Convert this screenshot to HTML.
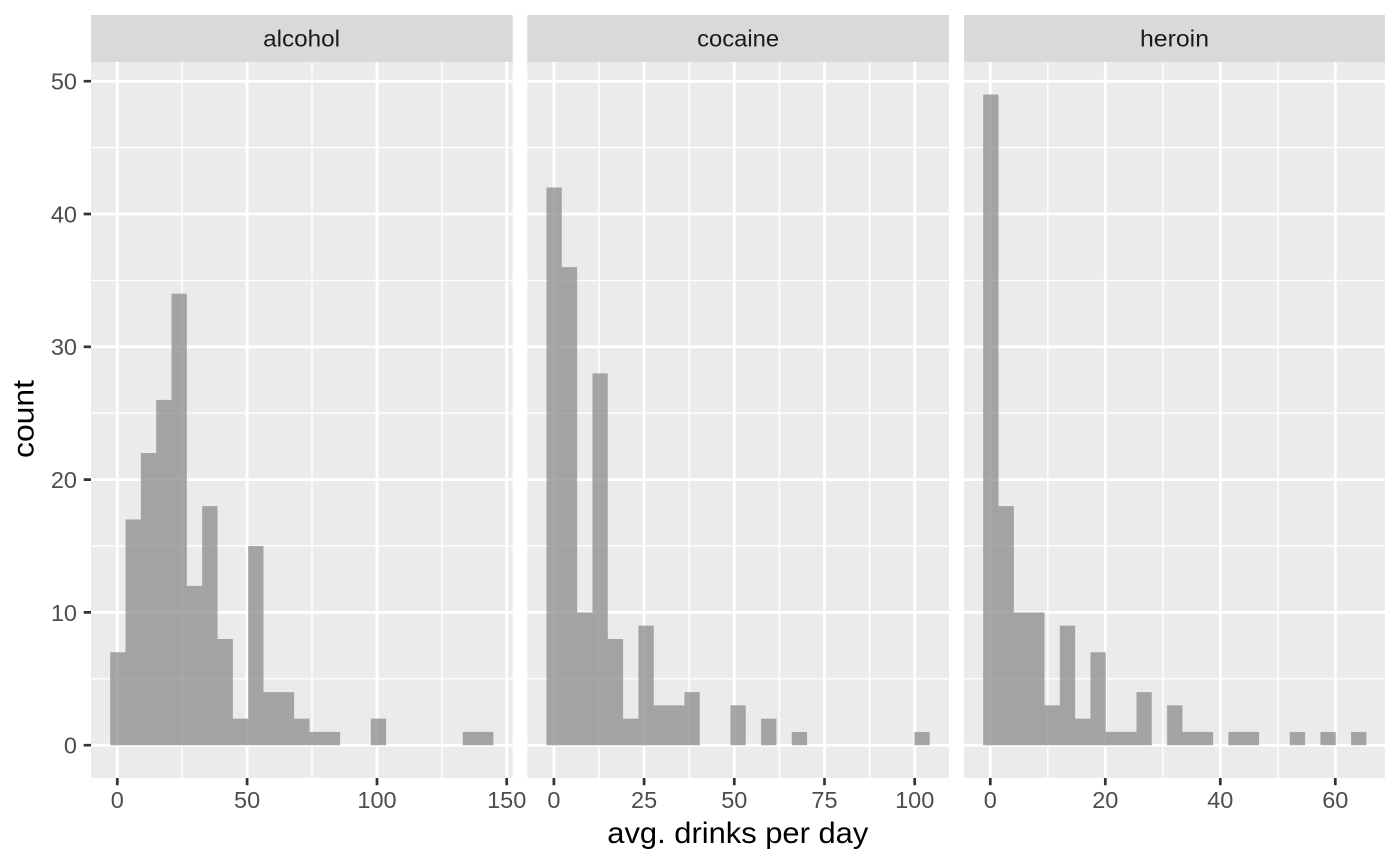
<!DOCTYPE html>
<html>
<head>
<meta charset="utf-8">
<style>
  html, body { margin: 0; padding: 0; background: #ffffff; }
  svg { display: block; }
  text { font-family: "Liberation Sans", "DejaVu Sans", sans-serif; }
</style>
</head>
<body>
<svg width="1400" height="866" viewBox="0 0 1400 866" xmlns="http://www.w3.org/2000/svg">
  <rect x="0" y="0" width="1400" height="866" fill="#ffffff"/>

  <!-- Strips -->
  <rect x="91" y="15" width="421.7" height="47" fill="#D9D9D9"/>
  <rect x="527.3" y="15" width="421.7" height="47" fill="#D9D9D9"/>
  <rect x="964" y="15" width="421" height="47" fill="#D9D9D9"/>
  <text x="301.6" y="46.7" font-size="23.5" fill="#1A1A1A" text-anchor="middle" textLength="77" lengthAdjust="spacingAndGlyphs">alcohol</text>
  <text x="738.15" y="46.7" font-size="23.5" fill="#1A1A1A" text-anchor="middle" textLength="82" lengthAdjust="spacingAndGlyphs">cocaine</text>
  <text x="1174.5" y="46.7" font-size="23.5" fill="#1A1A1A" text-anchor="middle" textLength="69" lengthAdjust="spacingAndGlyphs">heroin</text>

  <!-- Panel backgrounds -->
  <rect x="91" y="62" width="421.7" height="716" fill="#EBEBEB"/>
  <rect x="527.3" y="62" width="421.7" height="716" fill="#EBEBEB"/>
  <rect x="964" y="62" width="421" height="716" fill="#EBEBEB"/>

  <!-- Minor gridlines -->
  <g stroke="#ffffff" stroke-width="1.4">
    <path d="M91 678.8H512.7M91 546H512.7M91 413.2H512.7M91 280.4H512.7M91 147.6H512.7"/>
    <path d="M527.3 678.8H949M527.3 546H949M527.3 413.2H949M527.3 280.4H949M527.3 147.6H949"/>
    <path d="M964 678.8H1385M964 546H1385M964 413.2H1385M964 280.4H1385M964 147.6H1385"/>
    <path d="M182.2 62V778M312 62V778M441.8 62V778"/>
    <path d="M599 62V778M689.2 62V778M779.4 62V778M869.6 62V778"/>
    <path d="M1047.8 62V778M1162.8 62V778M1277.8 62V778"/>
  </g>
  <!-- Major gridlines -->
  <g stroke="#ffffff" stroke-width="2.8">
    <path d="M91 745.2H512.7M91 612.4H512.7M91 479.6H512.7M91 346.8H512.7M91 214H512.7M91 81.2H512.7"/>
    <path d="M527.3 745.2H949M527.3 612.4H949M527.3 479.6H949M527.3 346.8H949M527.3 214H949M527.3 81.2H949"/>
    <path d="M964 745.2H1385M964 612.4H1385M964 479.6H1385M964 346.8H1385M964 214H1385M964 81.2H1385"/>
    <path d="M117.3 62V778M247.1 62V778M377 62V778M506.7 62V778"/>
    <path d="M553.9 62V778M644.1 62V778M734.3 62V778M824.5 62V778M914.7 62V778"/>
    <path d="M990.3 62V778M1105.3 62V778M1220.3 62V778M1335.3 62V778"/>
  </g>

  <!-- Bars -->
  <g fill="rgb(139,139,139)" fill-opacity="0.75">
    <path d="M110.2 745.2V652.24H125.53V519.44H140.86V453.04H156.19V399.92H171.52V293.68H186.85V585.84H202.18V506.16H217.51V638.96H232.84V718.64H248.17V546H263.5V692.08H294.16V718.64H309.49V731.92H340.15V745.2Z"/>
    <path d="M370.81 718.64H386.14V745.2H370.81Z"/>
    <path d="M462.79 731.92H493.45V745.2H462.79Z"/>
    <path d="M546.47 745.2V187.44H561.8V267.12H577.13V612.4H592.46V373.36H607.79V638.96H623.12V718.64H638.45V625.68H653.78V705.36H684.44V692.08H699.77V745.2Z"/>
    <path d="M730.43 705.36H745.76V745.2H730.43Z"/>
    <path d="M761.09 718.64H776.42V745.2H761.09Z"/>
    <path d="M791.75 731.92H807.08V745.2H791.75Z"/>
    <path d="M914.39 731.92H929.72V745.2H914.39Z"/>
    <path d="M983.17 745.2V94.48H998.5V506.16H1013.83V612.4H1044.49V705.36H1059.82V625.68H1075.15V718.64H1090.48V652.24H1105.81V731.92H1136.47V692.08H1151.8V745.2Z"/>
    <path d="M1167.13 745.2V705.36H1182.46V731.92H1213.12V745.2Z"/>
    <path d="M1228.45 731.92H1259.11V745.2H1228.45Z"/>
    <path d="M1289.77 731.92H1305.1V745.2H1289.77Z"/>
    <path d="M1320.43 731.92H1335.76V745.2H1320.43Z"/>
    <path d="M1351.09 731.92H1366.42V745.2H1351.09Z"/>
  </g>

  <!-- Axis ticks -->
  <g stroke="#333333" stroke-width="2.7">
    <path d="M83.7 745.2H91M83.7 612.4H91M83.7 479.6H91M83.7 346.8H91M83.7 214H91M83.7 81.2H91"/>
    <path d="M117.3 778V785.3M247.1 778V785.3M377 778V785.3M506.7 778V785.3"/>
    <path d="M553.9 778V785.3M644.1 778V785.3M734.3 778V785.3M824.5 778V785.3M914.7 778V785.3"/>
    <path d="M990.3 778V785.3M1105.3 778V785.3M1220.3 778V785.3M1335.3 778V785.3"/>
  </g>

  <!-- Y tick labels -->
  <g font-size="23.5" fill="#4D4D4D" text-anchor="end">
    <text x="77" y="753.6">0</text>
    <text x="77" y="620.8">10</text>
    <text x="77" y="488">20</text>
    <text x="77" y="355.2">30</text>
    <text x="77" y="222.4">40</text>
    <text x="77" y="89.6">50</text>
  </g>

  <!-- X tick labels -->
  <g font-size="23.5" fill="#4D4D4D" text-anchor="middle">
    <text x="117.3" y="808">0</text>
    <text x="247.1" y="808">50</text>
    <text x="377" y="808">100</text>
    <text x="506.7" y="808">150</text>
    <text x="553.9" y="808">0</text>
    <text x="644.1" y="808">25</text>
    <text x="734.3" y="808">50</text>
    <text x="824.5" y="808">75</text>
    <text x="914.7" y="808">100</text>
    <text x="990.3" y="808">0</text>
    <text x="1105.3" y="808">20</text>
    <text x="1220.3" y="808">40</text>
    <text x="1335.3" y="808">60</text>
  </g>

  <!-- Axis titles -->
  <text x="737.8" y="843" font-size="29.3" fill="#000000" text-anchor="middle" textLength="261" lengthAdjust="spacingAndGlyphs">avg. drinks per day</text>
  <text transform="translate(33.5,419) rotate(-90)" x="0" y="0" font-size="29.3" fill="#000000" text-anchor="middle" textLength="78" lengthAdjust="spacingAndGlyphs">count</text>
</svg>
</body>
</html>
